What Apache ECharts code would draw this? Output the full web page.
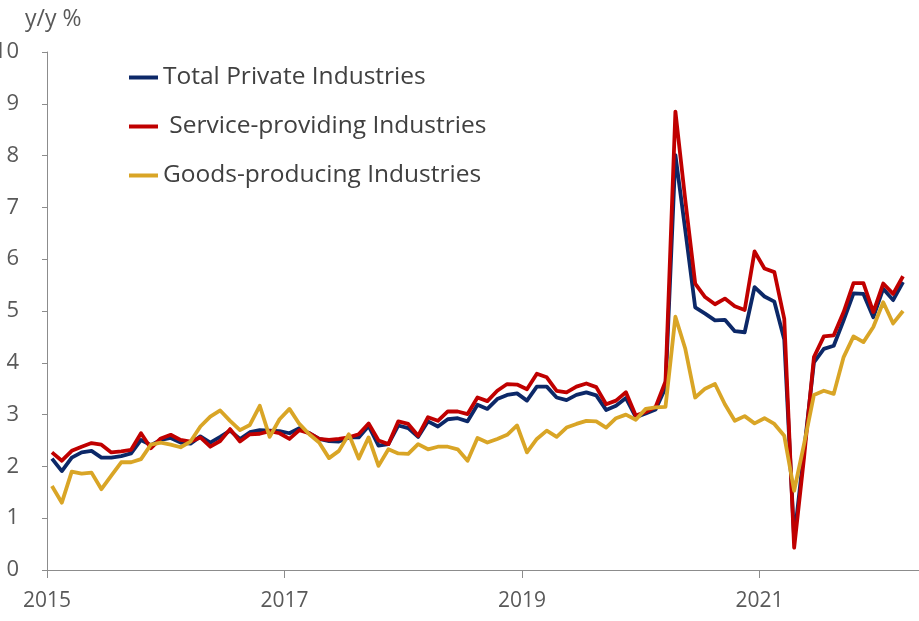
<!DOCTYPE html>
<html>
<head>
<meta charset="utf-8">
<script src="https://cdn.jsdelivr.net/npm/echarts@6/dist/echarts.min.js"></script>
<style>
  html, body { margin: 0; padding: 0; background: #ffffff; }
  #chart { width: 919px; height: 621px; }
</style>
</head>
<body>
<div id="chart"></div>
<script>
// Monthly observations, January 2015 through March 2022
const startYear = 2015;
const monthCount = 87;
const months = [];
for (let k = 0; k < monthCount; k++) {
  const y = startYear + Math.floor(k / 12);
  const m = (k % 12) + 1;
  months.push(y + '-' + String(m).padStart(2, '0'));
}

const yearTicks = [2015, 2017, 2019, 2021];

const seriesNames = [
  'Total Private Industries',
  ' Service-providing Industries',
  'Goods-producing Industries'
];

// y/y % change
const totalPrivate = [
  2.15, 1.91, 2.17, 2.27, 2.30, 2.17, 2.17, 2.20, 2.25, 2.51, 2.41, 2.51,
  2.55, 2.46, 2.44, 2.58, 2.46, 2.57, 2.69, 2.53, 2.66, 2.70, 2.69, 2.68,
  2.64, 2.74, 2.64, 2.53, 2.49, 2.48, 2.56, 2.56, 2.78, 2.40, 2.43, 2.79,
  2.74, 2.57, 2.87, 2.77, 2.91, 2.93, 2.87, 3.19, 3.11, 3.30, 3.38, 3.41,
  3.27, 3.54, 3.54, 3.33, 3.28, 3.38, 3.43, 3.37, 3.09, 3.17, 3.32, 2.95,
  3.02, 3.10, 3.52, 8.01, 6.56, 5.07, 4.95, 4.82, 4.83, 4.61, 4.59, 5.46,
  5.28, 5.18, 4.45, 0.60, 2.30, 4.01, 4.27, 4.33, 4.82, 5.34, 5.33, 4.88,
  5.43, 5.21, 5.56
];

const serviceProviding = [
  2.27, 2.11, 2.30, 2.38, 2.45, 2.42, 2.27, 2.29, 2.32, 2.64, 2.35, 2.54,
  2.61, 2.51, 2.48, 2.56, 2.38, 2.49, 2.72, 2.48, 2.62, 2.63, 2.68, 2.64,
  2.53, 2.70, 2.64, 2.53, 2.51, 2.53, 2.56, 2.62, 2.83, 2.50, 2.43, 2.87,
  2.82, 2.59, 2.95, 2.88, 3.06, 3.06, 3.01, 3.33, 3.26, 3.46, 3.59, 3.58,
  3.49, 3.79, 3.72, 3.46, 3.43, 3.54, 3.60, 3.53, 3.20, 3.27, 3.43, 2.98,
  3.05, 3.15, 3.64, 8.85, 7.14, 5.53, 5.27, 5.13, 5.24, 5.09, 5.02, 6.15,
  5.82, 5.75, 4.85, 0.43, 2.17, 4.11, 4.51, 4.53, 4.98, 5.54, 5.54, 4.98,
  5.53, 5.33, 5.67
];

const goodsProducing = [
  1.62, 1.30, 1.90, 1.86, 1.88, 1.56, 1.82, 2.08, 2.08, 2.14, 2.42, 2.46,
  2.42, 2.37, 2.48, 2.77, 2.96, 3.08, 2.88, 2.70, 2.80, 3.17, 2.57, 2.91,
  3.11, 2.82, 2.62, 2.46, 2.16, 2.30, 2.62, 2.15, 2.56, 2.01, 2.33, 2.25,
  2.24, 2.43, 2.33, 2.38, 2.38, 2.33, 2.11, 2.55, 2.46, 2.53, 2.61, 2.79,
  2.27, 2.53, 2.69, 2.57, 2.75, 2.82, 2.88, 2.87, 2.75, 2.93, 3.00, 2.90,
  3.11, 3.14, 3.15, 4.89, 4.27, 3.33, 3.50, 3.59, 3.20, 2.88, 2.97, 2.83,
  2.93, 2.82, 2.59, 1.53, 2.43, 3.38, 3.46, 3.40, 4.11, 4.51, 4.40, 4.69,
  5.17, 4.76, 5.00
];

const colors = ['#0c2868', '#c00000', '#d9a526'];
const fontFamily = '"Open Sans", "Noto Sans", sans-serif';

// Each monthly value is placed at the middle of its month on a decimal-year axis
function monthPosition(label) {
  const parts = label.split('-').map(Number);
  return parts[0] + (parts[1] - 0.5) / 12;
}
function toPoints(values) {
  return values.map((v, k) => [monthPosition(months[k]), v]);
}

const chart = echarts.init(document.getElementById('chart'), null, { renderer: 'canvas' });

chart.setOption({
  animation: false,
  backgroundColor: '#ffffff',
  color: colors,
  title: {
    text: 'y/y %',
    left: 20,
    top: 3,
    textStyle: { fontFamily: fontFamily, fontSize: 23, fontWeight: 'normal', color: '#595959' }
  },
  legend: {
    orient: 'vertical',
    left: 124,
    top: 60,
    icon: 'rect',
    itemWidth: 29,
    itemHeight: 4,
    itemGap: 24,
    data: seriesNames,
    textStyle: { fontFamily: fontFamily, fontSize: 24.5, color: '#404040' }
  },
  grid: { left: 47, right: 0, top: 52, bottom: 51, containLabel: false, outerBoundsMode: 'none' },
  xAxis: {
    type: 'value',
    min: 2015,
    max: 2022.343,
    splitLine: { show: false },
    axisLine: { show: true, lineStyle: { color: '#8c8c8c', width: 1 } },
    axisTick: { show: true, length: 8, customValues: yearTicks, lineStyle: { color: '#8c8c8c' } },
    axisLabel: {
      customValues: yearTicks,
      formatter: function (v) { return String(v); },
      fontFamily: fontFamily,
      fontSize: 21,
      color: '#595959',
      margin: 21
    }
  },
  yAxis: {
    type: 'value',
    min: 0,
    max: 10,
    interval: 1,
    splitLine: { show: false },
    axisLine: { show: true, lineStyle: { color: '#8c8c8c', width: 1 } },
    axisTick: { show: true, length: 5, lineStyle: { color: '#8c8c8c' } },
    axisLabel: { fontFamily: fontFamily, fontSize: 22, color: '#595959', margin: 28 }
  },
  series: [
    { name: seriesNames[0], type: 'line', data: toPoints(totalPrivate), showSymbol: false, symbol: 'none',
      lineStyle: { width: 3.8, color: colors[0], join: 'round' } },
    { name: seriesNames[1], type: 'line', data: toPoints(serviceProviding), showSymbol: false, symbol: 'none',
      lineStyle: { width: 3.8, color: colors[1], join: 'round' } },
    { name: seriesNames[2], type: 'line', data: toPoints(goodsProducing), showSymbol: false, symbol: 'none',
      lineStyle: { width: 3.8, color: colors[2], join: 'round' } }
  ]
});
</script>
</body>
</html>
